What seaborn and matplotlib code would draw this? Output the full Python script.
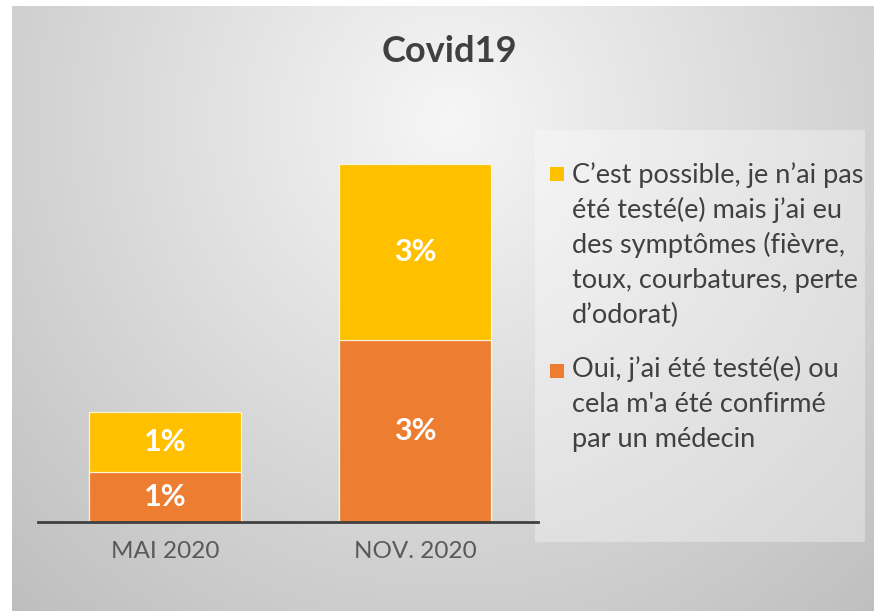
import numpy as np
import pandas as pd
import matplotlib
matplotlib.use("Agg")
import matplotlib.pyplot as plt
import seaborn as sns
from matplotlib.patches import Rectangle

# ---------------- data ----------------
periods = ["MAI 2020", "NOV. 2020"]
confirmed = [0.82, 3.0]          # Oui, testé(e) / confirmé (orange, bottom)
possible = [1.0, 2.9]            # C'est possible (yellow, top)
confirmed_labels = ["1%", "3%"]
possible_labels = ["1%", "3%"]
title_text = "Covid19"
legend_possible = ["C’est possible, je n’ai pas", "été testé(e) mais j’ai eu",
                   "des symptômes (fièvre,", "toux, courbatures, perte", "d’odorat)"]
legend_confirmed = ["Oui, j’ai été testé(e) ou", "cela m'a été confirmé", "par un médecin"]

ORANGE = "#ED7D31"
YELLOW = "#FFC000"
TEXT = "#404040"

sns.set_style("white")
plt.rcParams["font.family"] = ["Lato", "DejaVu Sans"]

W, H = 874, 611
fig = plt.figure(figsize=(W / 100, H / 100), dpi=100)
fig.patch.set_facecolor("white")

def fx(px):
    return px / W

def fy(py):
    return (H - py) / H

# background gradient panel
bg = fig.add_axes([fx(12), 0, fx(W - 12), (H - 6) / H])
bg.set_zorder(0)
yy, xx = np.mgrid[6:H, 12:W]
d = np.sqrt(((xx - 450) / 500.0) ** 2 + ((yy - 120) / 520.0) ** 2)
g = np.clip(0.965 - 0.17 * d, 0, 1)
bg.imshow(np.dstack([g, g, g]), aspect="auto", interpolation="bilinear")
bg.axis("off")

# legend background box
fig.add_artist(Rectangle((fx(535), fy(542)), fx(865) - fx(535), fy(130) - fy(542),
                         transform=fig.transFigure, facecolor="white", alpha=0.33,
                         edgecolor="none", zorder=1))

# main axes
ax = fig.add_axes([fx(38), fy(522), fx(538) - fx(38), fy(97) - fy(522)])
ax.set_zorder(2)
ax.set_facecolor("none")

df = pd.DataFrame({"period": periods, "confirmed": confirmed, "possible": possible})
df["total"] = df["confirmed"] + df["possible"]

sns.barplot(data=df, x="period", y="total", color=YELLOW, saturation=1, width=0.61,
            edgecolor="#fff4d6", linewidth=0.9, ax=ax)
sns.barplot(data=df, x="period", y="confirmed", color=ORANGE, saturation=1, width=0.61,
            edgecolor="#fff4d6", linewidth=0.9, ax=ax)

ax.set_xlim(-0.508, 1.492)
ax.set_ylim(0, 7)
ax.set_xlabel("")
ax.set_ylabel("")
ax.set_yticks([])
for s in ["top", "right", "left"]:
    ax.spines[s].set_visible(False)
ax.spines["bottom"].set_color("#404040")
ax.spines["bottom"].set_linewidth(2.0)
ax.tick_params(axis="x", length=0, pad=14, labelsize=17.5, labelcolor="#595959")

# data labels
for i in range(len(periods)):
    ax.text(i, confirmed[i] / 2, confirmed_labels[i], ha="center", va="center",
            color="white", fontsize=22, fontweight="bold")
    ax.text(i, confirmed[i] + possible[i] / 2, possible_labels[i], ha="center", va="center",
            color="white", fontsize=22, fontweight="bold")

# title
fig.text(fx(449), fy(52), title_text, ha="center", va="center", fontsize=26,
         fontweight="bold", color=TEXT)

# legend (manual)
fs_leg = 19.5
fig.add_artist(Rectangle((fx(550), fy(181)), fx(14), fy(167) - fy(181),
                         transform=fig.transFigure, facecolor=YELLOW, edgecolor="none", zorder=3))
for k, line in enumerate(legend_possible):
    fig.text(fx(572), fy(183 + 35 * k), line, ha="left", va="baseline",
             fontsize=fs_leg, color=TEXT)
fig.add_artist(Rectangle((fx(550), fy(378)), fx(14), fy(364) - fy(378),
                         transform=fig.transFigure, facecolor=ORANGE, edgecolor="none", zorder=3))
for k, line in enumerate(legend_confirmed):
    fig.text(fx(572), fy(377 + 35 * k), line, ha="left", va="baseline",
             fontsize=fs_leg, color=TEXT)

fig.savefig("out.png", dpi=100)
